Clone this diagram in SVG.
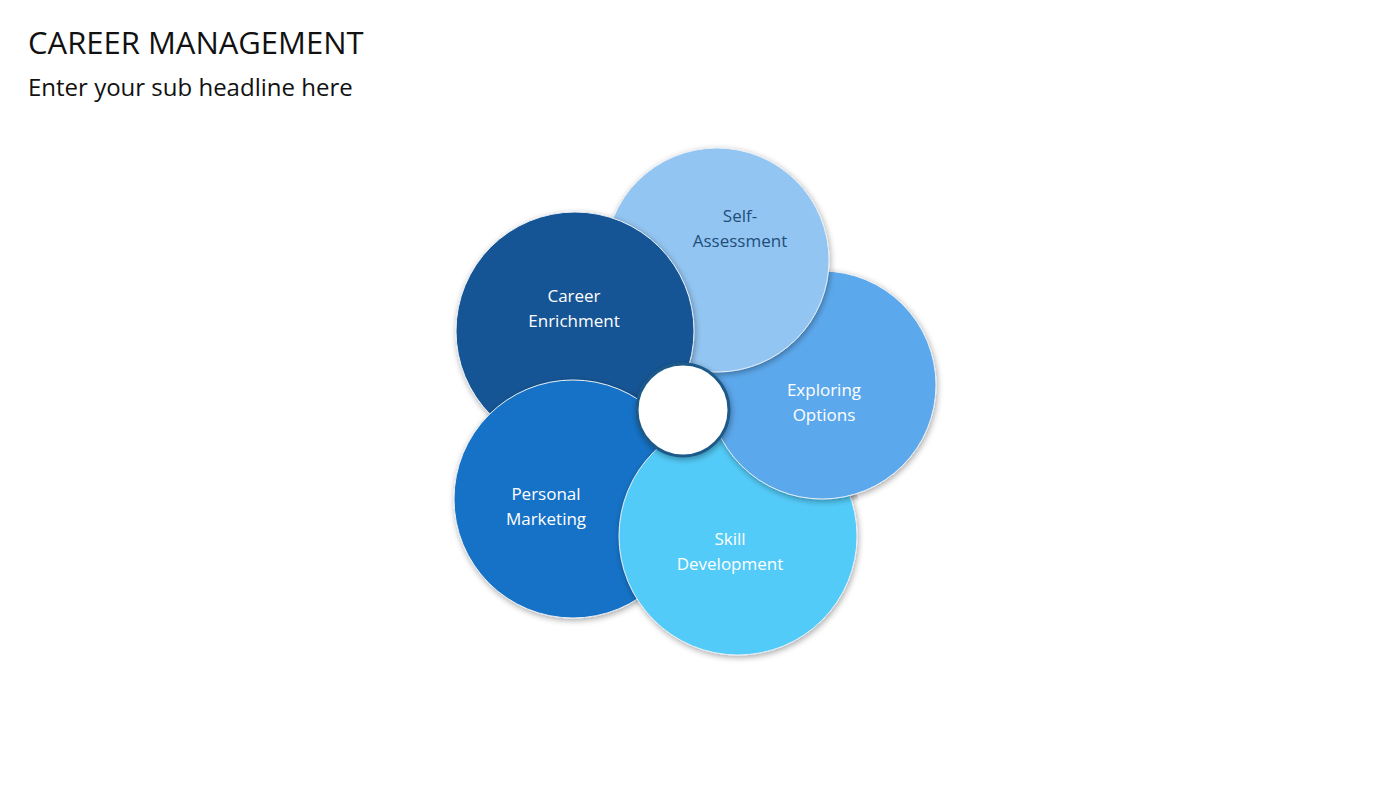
<svg xmlns="http://www.w3.org/2000/svg" width="1400" height="788" viewBox="0 0 1400 788">
<defs>
<filter id="sh" x="-20%" y="-20%" width="140%" height="140%"><feGaussianBlur in="SourceAlpha" stdDeviation="3"/><feOffset dx="1" dy="2"/><feComponentTransfer><feFuncA type="linear" slope="0.35"/></feComponentTransfer><feMerge><feMergeNode/><feMergeNode in="SourceGraphic"/></feMerge></filter>
<clipPath id="skillClip"><circle cx="738" cy="536" r="126"/></clipPath>
</defs>
<style>
text{font-family:"Open Sans","Liberation Sans",sans-serif}
.l{font-size:17px;fill:#fff;text-anchor:middle}
.c{stroke:#e8eef5;stroke-width:1;filter:url(#sh)}
</style>
<rect width="1400" height="788" fill="#fff"/>
<text x="28" y="54" font-size="31" fill="#111">CAREER MANAGEMENT</text>
<text x="28" y="96" font-size="24" fill="#111">Enter your sub headline here</text>
<g id="exploring"><circle class="c" cx="822" cy="385" r="114" fill="#5BA8EC"/><text class="l" x="824" y="396">Exploring</text><text class="l" x="824" y="421">Options</text></g>
<g id="self"><circle class="c" cx="717" cy="260" r="112" fill="#93C5F2"/><text class="l" x="740" y="222" style="fill:#1F4E79">Self-</text><text class="l" x="740" y="247" style="fill:#1F4E79">Assessment</text></g>
<g id="career"><circle class="c" cx="575" cy="331" r="119" fill="#135595"/><text class="l" x="574" y="302">Career</text><text class="l" x="574" y="327">Enrichment</text></g>
<g id="personal"><circle class="c" cx="573" cy="499" r="119" fill="#1872C6"/><text class="l" x="546" y="500">Personal</text><text class="l" x="546" y="525">Marketing</text></g>
<g id="skill"><circle class="c" cx="738" cy="536" r="119" fill="#52CBF8"/><text class="l" x="730" y="545">Skill</text><text class="l" x="730" y="570">Development</text></g>
<g clip-path="url(#skillClip)"><circle class="c" cx="822" cy="385" r="114" fill="#5BA8EC"/></g>
<g id="center"><circle cx="683" cy="410" r="46" fill="#fff" stroke="#1F5A8A" stroke-width="3" filter="url(#sh)"/></g>
<g id="connectors"/>
</svg>
